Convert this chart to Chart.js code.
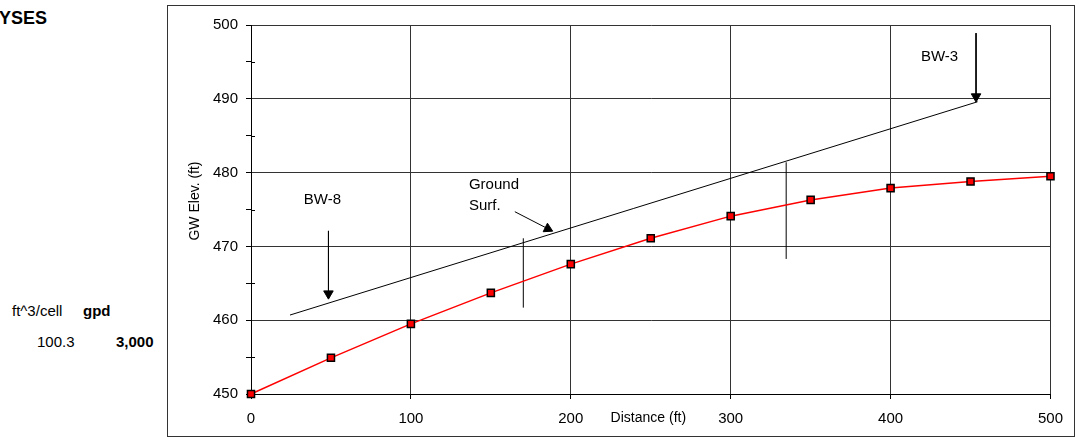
<!DOCTYPE html>
<html>
<head>
<meta charset="utf-8">
<script src="https://cdn.jsdelivr.net/npm/chart.js@4.4.1/dist/chart.umd.min.js"></script>
<style>
  body {
    margin: 0;
    width: 1080px;
    height: 437px;
    overflow: hidden;
    background: #fff;
    font-family: "Liberation Sans", Arial, sans-serif;
    color: #000;
  }
  .side {
    position: absolute;
    font-size: 15px;
    white-space: nowrap;
  }
  .heading {
    font-size: 18px;
    font-weight: bold;
  }
  #frame {
    position: absolute;
    left: 167px;
    top: 5px;
    width: 906px;
    height: 430px;
    border: 1px solid #333;
  }
  #frame canvas {
    display: block;
  }
</style>
</head>
<body>

<div class="side heading" style="left:-1px; top:8px;">YSES</div>
<div class="side" style="left:12px; top:302px;">ft^3/cell</div>
<div class="side" style="left:83px; top:302px; font-weight:bold;">gpd</div>
<div class="side" style="left:37px; top:333px;">100.3</div>
<div class="side" style="left:116px; top:333px; font-weight:bold;">3,000</div>

<div id="frame">
  <canvas id="gw-chart" width="906" height="430"></canvas>
</div>

<script>
// =========
// Data
// =========

//  GW elevation profile
//  --------------------
const distance = [0, 50, 100, 150, 200, 250, 300, 350, 400, 450, 500];
const gwElev = [450, 454.9, 459.5, 463.7, 467.6, 471.1, 474.1, 476.3, 477.9, 478.8, 479.5];

//  Ground surface + marker lines (distance, elevation)
//  ---------------------------------------------------
const groundX = [24.4, 454.4];
const groundY = [460.7, 489.6];

const markAX = [170.3, 170.3];
const markAY = [461.7, 471.1];
const markBX = [334.7, 334.7];
const markBY = [468.3, 481.4];

//  Arrows: tail then head
//  ----------------------
const bw8ArrowX = [48.44, 48.44];
const bw8ArrowY = [472.1, 463.6];
const groundArrowX = [165, 185.6];
const groundArrowY = [474.7, 472.4];
const bw3ArrowX = [453.44, 453.44];
const bw3ArrowY = [498.9, 490.3];

//  Ticks
//  -----
const xTicks = [0, 100, 200, 300, 400, 500];
const yTicks = [450, 460, 470, 480, 490, 500];

//  Notes: text, distance, elevation
//  --------------------------------
const noteText = ['BW-8', 'Ground', 'Surf.', 'BW-3'];
const noteX = [44.7, 136.3, 136.3, 430.6];
const noteY = [475.75, 477.8, 474.9, 495.1];
const noteAlign = ['center', 'left', 'left', 'center'];

const toPoints = (xs, ys) => xs.map((x, i) => ({x: x, y: ys[i]}));


// ======
// Chart
// ======
const FONT = '"Liberation Sans", Arial, sans-serif';
const gridColor = '#333';

//  Plain black segment
const segment = (xs, ys) => ({
  data: toPoints(xs, ys),
  showLine: true,
  borderColor: '#000',
  borderWidth: 1,
  pointRadius: 0,
});

//  Black segment with a triangle head on the last point
const arrow = (xs, ys, turn) => ({
  data: toPoints(xs, ys),
  showLine: true,
  borderColor: '#000',
  borderWidth: 1,
  pointStyle: 'triangle',
  pointRadius: [0, 5.5],
  pointRotation: [0, turn],
  pointBackgroundColor: '#000',
  pointBorderColor: '#000',
  pointBorderWidth: 1,
});

//  Texts drawn onto the plot, minor y ticks inside the axis
const extras = {
  id: 'extras',
  afterDraw(chart) {
    const {ctx, scales, chartArea} = chart;
    const x = scales.x;
    const y = scales.y;

    ctx.save();
    ctx.strokeStyle = '#000';
    ctx.lineWidth = 1;
    for (let v = 455; v < 500; v += 10) {
      const py = Math.round(y.getPixelForValue(v)) + 0.5;
      ctx.beginPath();
      ctx.moveTo(chartArea.left, py);
      ctx.lineTo(chartArea.left + 4, py);
      ctx.stroke();
    }

    ctx.fillStyle = '#000';
    ctx.textBaseline = 'alphabetic';
    ctx.font = '15px ' + FONT;
    for (let i = 0; i < noteText.length; i++) {
      ctx.textAlign = noteAlign[i];
      ctx.fillText(noteText[i], x.getPixelForValue(noteX[i]), y.getPixelForValue(noteY[i]));
    }

    // axis titles
    ctx.font = '14px ' + FONT;
    ctx.textAlign = 'center';
    ctx.fillText('Distance (ft)', x.getPixelForValue(248.5), chartArea.bottom + 28);

    ctx.translate(chartArea.left - 56, chartArea.top + 176);
    ctx.rotate(-Math.PI / 2);
    ctx.textBaseline = 'middle';
    ctx.fillText('GW Elev. (ft)', 0, 0);
    ctx.restore();
  },
};

const gwChart = new Chart(document.getElementById('gw-chart'), {
  type: 'scatter',
  data: {
    datasets: [
      {
        data: toPoints(distance, gwElev),
        showLine: true,
        clip: false,
        borderColor: '#ff0000',
        borderWidth: 1.5,
        pointStyle: 'rect',
        pointRadius: 5,
        pointBackgroundColor: '#ff0000',
        pointBorderColor: '#000',
        pointBorderWidth: 1.5,
      },
      segment(groundX, groundY),
      segment(markAX, markAY),
      segment(markBX, markBY),
      arrow(bw8ArrowX, bw8ArrowY, 180),
      arrow(groundArrowX, groundArrowY, 116.6),
      arrow(bw3ArrowX, bw3ArrowY, 180),
    ],
  },
  options: {
    responsive: false,
    animation: false,
    events: [],
    layout: {
      padding: {left: 0, right: 23, top: 19, bottom: 0},
    },
    plugins: {
      legend: {display: false},
      tooltip: {enabled: false},
    },
    scales: {
      x: {
        type: 'linear',
        min: 0,
        max: 500,
        afterFit: (scale) => { scale.height = 42; },
        afterBuildTicks: (scale) => { scale.ticks = xTicks.map(v => ({value: v})); },
        grid: {color: gridColor, tickColor: '#000', tickLength: 5, lineWidth: 1},
        border: {color: '#000', width: 1},
        ticks: {
          color: '#000',
          font: {family: FONT, size: 15},
          padding: 11,
          maxRotation: 0,
        },
      },
      y: {
        type: 'linear',
        min: 450,
        max: 500,
        afterFit: (scale) => { scale.width = 83; },
        afterBuildTicks: (scale) => {
          const all = [];
          for (let i = 0; i < yTicks.length; i++) {
            all.push({value: yTicks[i]});
            if (i < yTicks.length - 1) all.push({value: yTicks[i] + 5});
          }
          scale.ticks = all;
        },
        grid: {
          color: (c) => (yTicks.includes(c.tick.value) ? gridColor : 'rgba(0,0,0,0)'),
          tickColor: '#000',
          tickLength: 5,
          lineWidth: 1,
        },
        border: {color: '#000', width: 1},
        ticks: {
          color: '#000',
          font: {family: FONT, size: 15},
          padding: 8,
          callback: (v) => (yTicks.includes(v) ? String(v) : ''),
        },
      },
    },
  },
  plugins: [extras],
});
</script>
</body>
</html>
